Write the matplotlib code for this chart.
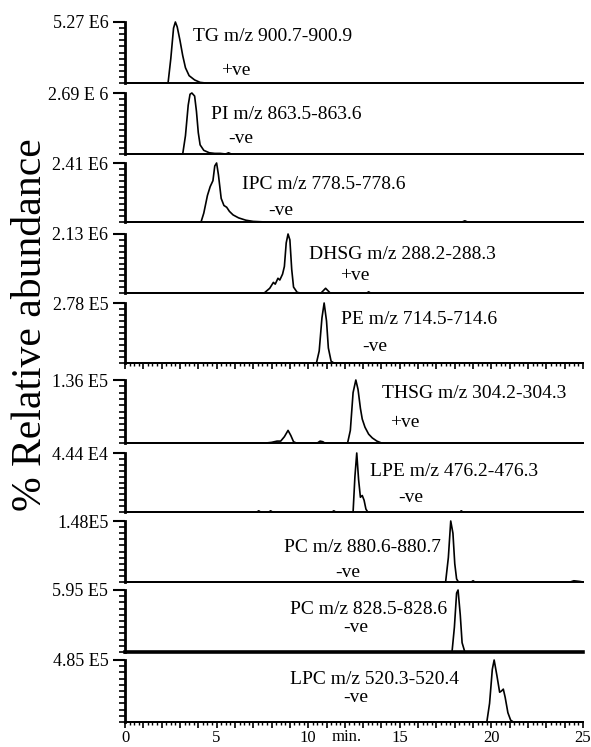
import numpy as np
import matplotlib
matplotlib.use("Agg")
import matplotlib.pyplot as plt
from matplotlib.ticker import MultipleLocator, FixedLocator, FuncFormatter

plt.rcParams['font.family'] = ['Liberation Serif', 'DejaVu Serif']

# chromatogram traces: retention time (min) and relative abundance (%)
tg_t = [0, 2.35, 2.5, 2.65, 2.75, 2.85, 3.0, 3.15, 3.3, 3.5, 3.8, 4.1, 4.4, 25]
tg_v = [0, 0, 40, 90, 100, 92, 70, 45, 25, 12, 5, 1, 0, 0]

pi_t = [0, 3.15, 3.3, 3.45, 3.55, 3.65, 3.8, 3.9, 4.0, 4.1, 4.3, 4.6, 4.9, 5.2, 5.5, 5.65, 5.8, 25]
pi_v = [0, 0, 30, 80, 98, 100, 95, 70, 35, 15, 6, 2, 1, 1, 0, 2, 0, 0]

ipc_t = [0, 4.15, 4.3, 4.5, 4.65, 4.8, 4.9, 5.0, 5.1, 5.25, 5.4, 5.55, 5.7, 5.9, 6.2, 6.6, 7.0, 7.7,
         18.4, 18.55, 18.7, 25]
ipc_v = [0, 0, 15, 45, 60, 70, 95, 100, 80, 40, 28, 25, 18, 12, 7, 3, 1, 0, 0, 2, 0, 0]

dhsg_t = [0, 7.6, 7.9, 8.1, 8.2, 8.35, 8.45, 8.6, 8.7, 8.8, 8.9, 9.0, 9.1, 9.2, 9.4, 9.6,
          10.7, 10.95, 11.2, 13.2, 13.3, 13.4, 25]
dhsg_v = [0, 0, 8, 18, 15, 25, 22, 32, 45, 85, 100, 90, 40, 10, 1, 0, 0, 8, 0, 0, 2, 0, 0]

pe_t = [0, 10.45, 10.6, 10.75, 10.87, 11.0, 11.1, 11.25, 11.4, 25]
pe_v = [0, 0, 20, 75, 100, 70, 25, 3, 0, 0]

thsg_t = [0, 7.7, 8.0, 8.3, 8.5, 8.7, 8.9, 9.05, 9.2, 9.35, 10.5, 10.65, 10.8, 10.9,
          12.15, 12.3, 12.45, 12.6, 12.72, 12.85, 12.95, 13.1, 13.3, 13.5, 13.75, 14.0, 25]
thsg_v = [0, 0, 1, 3, 3, 10, 20, 12, 2, 0, 0, 3, 2, 0,
          0, 20, 80, 100, 85, 55, 38, 25, 14, 8, 3, 0, 0]

lpe_t = [0, 7.2, 7.3, 7.4, 7.85, 7.95, 8.05, 11.3, 11.4, 11.5, 12.45, 12.55, 12.65, 12.75,
         12.85, 12.95, 13.05, 13.15, 13.25, 18.3, 18.35, 18.45, 25]
lpe_v = [0, 0, 2, 0, 0, 2, 0, 0, 2, 0, 0, 60, 100, 55, 25, 28, 20, 5, 0, 0, 2, 0, 0]

pc880_t = [0, 17.5, 17.65, 17.78, 17.9, 18.0, 18.1, 18.2, 18.9, 19.0, 19.1, 24.3, 24.5, 24.8, 25]
pc880_v = [0, 0, 40, 100, 80, 30, 5, 0, 0, 2, 0, 0, 2, 1, 0]

pc828_t = [0, 17.85, 17.98, 18.1, 18.18, 18.3, 18.4, 18.55, 25]
pc828_v = [0, 0, 40, 95, 100, 60, 15, 0, 0]

lpc_t = [0, 19.75, 19.9, 20.05, 20.15, 20.3, 20.45, 20.55, 20.65, 20.75, 20.9, 21.05, 21.2, 25]
lpc_v = [0, 0, 30, 85, 100, 75, 48, 50, 53, 40, 15, 3, 0, 0]

traces = [(tg_t, tg_v), (pi_t, pi_v), (ipc_t, ipc_v), (dhsg_t, dhsg_v), (pe_t, pe_v),
          (thsg_t, thsg_v), (lpe_t, lpe_v), (pc880_t, pc880_v), (pc828_t, pc828_v), (lpc_t, lpc_v)]

names = ["TG m/z 900.7-900.9", "PI m/z 863.5-863.6", "IPC m/z 778.5-778.6",
         "DHSG m/z 288.2-288.3", "PE m/z 714.5-714.6", "THSG m/z 304.2-304.3",
         "LPE m/z 476.2-476.3", "PC m/z 880.6-880.7", "PC m/z 828.5-828.6",
         "LPC m/z 520.3-520.4"]
polarity = ["+ve", "-ve", "-ve", "+ve", "-ve", "+ve", "-ve", "-ve", "-ve", "-ve"]
max_labels = ["5.27 E6", "2.69 E 6", "2.41 E6", "2.13 E6", "2.78 E5", "1.36 E5",
              "4.44 E4", "1.48E5", "5.95 E5", "4.85 E5"]
x_ticks = [0, 5, 10, 15, 20, 25]

# layout (pixel rows of each panel: top, baseline) and label placement
W, H = 591, 747
panel_px = [(22, 83), (93, 154), (163, 222), (234, 293), (303, 363),
            (380, 443), (453, 512), (521, 582), (590, 652), (660, 722)]
x0_px, x1_px = 125, 583
name_pos = [(3.71, 77), (4.69, 64), (6.39, 63), (10.04, 66), (11.79, 72),
            (14.03, 79), (13.37, 68), (8.68, 57), (9.0, 69), (9.0, 68)]
pol_pos = [(5.24, 21), (5.62, 25), (7.8, 20), (11.74, 29), (12.94, 27),
           (14.46, 32), (14.9, 25), (11.46, 16), (11.9, 39), (11.9, 40)]
ticked_x = [4, 9]

fig = plt.figure(figsize=(W / 100, H / 100), dpi=100)

for i, (t, v) in enumerate(traces):
    top, base = panel_px[i]
    ax = fig.add_axes([x0_px / W, 1 - base / H, (x1_px - x0_px) / W, (base - top) / H])
    ax.plot(t, v, color="black", lw=1.2, clip_on=False)
    ax.set_xlim(0, 25)
    ax.set_ylim(0, 100)
    for s in ["top", "right"]:
        ax.spines[s].set_visible(False)
    ax.spines["left"].set_linewidth(2.0)
    ax.spines["bottom"].set_linewidth(2.6 if i == 8 else 1.4)

    ax.yaxis.set_major_locator(FixedLocator([100]))
    ax.yaxis.set_minor_locator(MultipleLocator(10))
    ax.set_yticklabels([max_labels[i]])
    ax.tick_params(axis="y", which="major", direction="out", length=9, width=1.5,
                   labelsize=13, pad=3)
    ax.tick_params(axis="y", which="minor", direction="out", length=4, width=1.2)

    if i in ticked_x:
        ax.xaxis.set_major_locator(MultipleLocator(1))
        ax.xaxis.set_minor_locator(MultipleLocator(0.25))
        ax.tick_params(axis="x", which="major", direction="out", length=4, width=1.2)
        ax.tick_params(axis="x", which="minor", direction="out", length=2.5, width=1.0)
        if i == 9:
            ax.xaxis.set_major_formatter(FuncFormatter(
                lambda x, p: "%d" % x if int(round(x)) in x_ticks else ""))
            ax.tick_params(axis="x", which="major", labelsize=12, pad=1.5)
            ax.text(12.1, -0.12, "min.", transform=ax.get_xaxis_transform(),
                    fontsize=12, ha="center", va="top")
        else:
            ax.set_xticklabels([])
    else:
        ax.set_xticks([])

    ax.text(name_pos[i][0], name_pos[i][1], names[i], fontsize=14, ha="left", va="center")
    ax.text(pol_pos[i][0], pol_pos[i][1], polarity[i], fontsize=14, ha="left", va="center")

fig.text(31 / W, 1 - 325 / H, "% Relative abundance", rotation=90, fontsize=30,
         ha="center", va="center")

fig.savefig("out.png", dpi=100)
